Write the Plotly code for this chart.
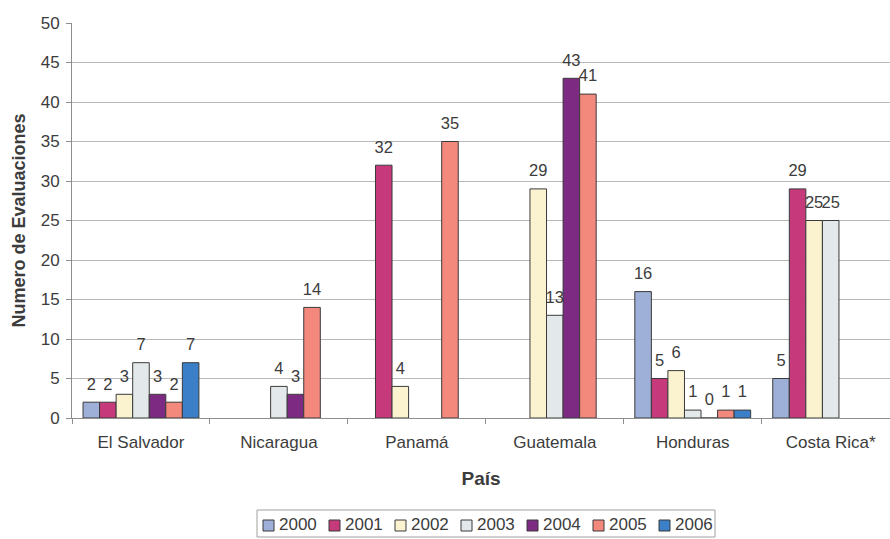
import plotly.graph_objects as go

# Número de evaluaciones por país y año
paises = ["El Salvador", "Nicaragua", "Panamá", "Guatemala", "Honduras", "Costa Rica*"]
anios = ["2000", "2001", "2002", "2003", "2004", "2005", "2006"]

v2000 = [2, None, None, None, 16, 5]
v2001 = [2, None, 32, None, 5, 29]
v2002 = [3, None, 4, 29, 6, 25]
v2003 = [7, 4, None, 13, 1, 25]
v2004 = [3, 3, None, 43, 0, None]
v2005 = [2, 14, 35, 41, 1, None]
v2006 = [7, None, None, None, 1, None]

series = [v2000, v2001, v2002, v2003, v2004, v2005, v2006]
colores = ["#9eafd8", "#c63a7c", "#fbf3d0", "#e3e9ea", "#7d2a82", "#f3887d", "#3a7fc7"]

FONT = "Liberation Sans, Arial, sans-serif"
TXT = "#3c3c3c"
BORDE = "#3a3a3a"

# Page geometry (pixels)
W, H = 890, 539
ML, MR, MT, MB = 72, 0, 23, 121
PW, PH = W - ML - MR, H - MT - MB


def fx(px):
    return (px - ML) / PW


def fy(py):
    return (H - MB - py) / PH


fig = go.Figure()
for i, (anio, vals, color) in enumerate(zip(anios, series, colores)):
    fig.add_trace(go.Bar(
        name=anio,
        x=paises,
        y=vals,
        offsetgroup=str(i),
        marker=dict(color=color, line=dict(color=BORDE, width=1)),
        showlegend=False,
    ))

# Value labels, grouped the same way as the bars
for i, (anio, vals) in enumerate(zip(anios, series)):
    fig.add_trace(go.Scatter(
        x=paises,
        y=vals,
        offsetgroup=str(i),
        mode="markers+text",
        marker=dict(size=12, opacity=0),
        text=[("" if v is None else str(v)) for v in vals],
        textposition="top center",
        textfont=dict(family=FONT, size=16.5, color=TXT),
        cliponaxis=False,
        showlegend=False,
        hoverinfo="skip",
    ))

# Legend: boxed row of swatches and years below the axis title
shapes = [dict(type="rect", xref="paper", yref="paper",
               x0=fx(257), x1=fx(715), y0=fy(537), y1=fy(510),
               line=dict(color="#a0a0a0", width=1), fillcolor="white", layer="above")]
annotations = []
leg_x0, leg_pitch, sw = 263, 66, 11
for i, (anio, color) in enumerate(zip(anios, colores)):
    x0 = leg_x0 + i * leg_pitch
    shapes.append(dict(type="rect", xref="paper", yref="paper",
                       x0=fx(x0), x1=fx(x0 + sw), y0=fy(531), y1=fy(520),
                       line=dict(color=BORDE, width=1), fillcolor=color, layer="above"))
    annotations.append(dict(xref="paper", yref="paper", x=fx(x0 + 14), y=fy(524.5),
                            xanchor="left", yanchor="middle", showarrow=False,
                            text=anio, font=dict(family=FONT, size=17, color=TXT)))

fig.update_layout(
    width=W,
    height=H,
    barmode="group",
    bargap=0.16,
    bargroupgap=0,
    scattermode="group",
    scattergap=0.16,
    plot_bgcolor="white",
    paper_bgcolor="white",
    margin=dict(l=ML, r=MR, t=MT, b=MB, autoexpand=False),
    font=dict(family=FONT, size=17, color=TXT),
    showlegend=False,
    shapes=shapes,
    annotations=annotations,
    xaxis=dict(
        type="category",
        range=[-0.5, 5.43],
        showline=True,
        linecolor="#8e8e8e",
        ticks="outside",
        tickson="boundaries",
        ticklen=5,
        tickcolor="#8e8e8e",
        tickfont=dict(size=17),
        ticklabelstandoff=9,
        title=dict(text="<b>País</b>", font=dict(size=19), standoff=20),
    ),
    yaxis=dict(
        range=[0, 50],
        dtick=5,
        showline=True,
        linecolor="#8e8e8e",
        ticks="outside",
        ticklen=5,
        tickcolor="#8e8e8e",
        gridcolor="#b8b8b8",
        gridwidth=1,
        zeroline=False,
        tickfont=dict(size=17),
        ticklabelstandoff=3,
        title=dict(text="<b>Numero de Evaluaciones</b>", font=dict(size=18), standoff=10),
    ),
)

fig.write_html("out.html")
